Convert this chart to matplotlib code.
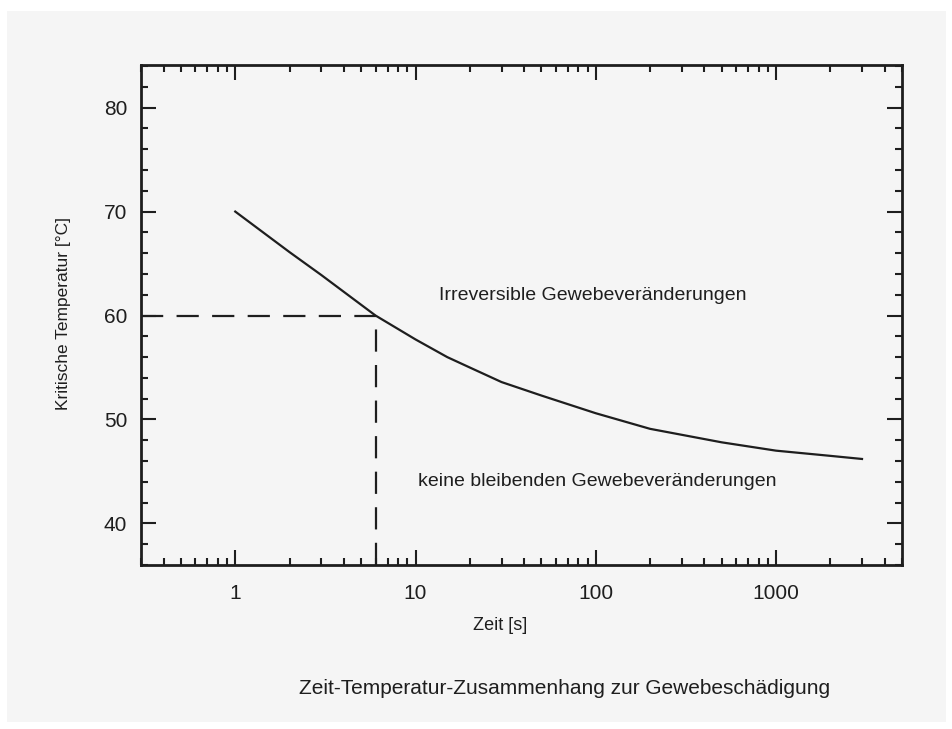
import matplotlib.pyplot as plt
from matplotlib.patches import Rectangle

# critical temperature vs. exposure time
zeit = [1, 2, 3, 6, 10, 15, 20, 30, 50, 100, 200, 500, 1000, 2000, 3000]
temperatur = [70.0, 66.1, 63.9, 60.0, 57.7, 56.0, 55.0, 53.6, 52.3, 50.6, 49.1, 47.8, 47.0, 46.5, 46.2]

# dashed guide: 60 degC reached after about 6 s
guide_t = 6
guide_T = 60

x_ticks = [1, 10, 100, 1000]
x_ticklabels = ['1', '10', '100', '1000']
y_ticks = [40, 50, 60, 70, 80]

plt.rcParams['font.family'] = ['Liberation Sans', 'DejaVu Sans']
ink = '#1e1e1e'
paper = '#f5f5f5'

fig = plt.figure(figsize=(9.53, 7.29), dpi=100)
fig.patch.set_facecolor('white')
fig.patches.append(Rectangle((7 / 953, 1 - 722 / 729), 939 / 953, 711 / 729,
                             transform=fig.transFigure, facecolor=paper,
                             edgecolor='none', zorder=-10))

ax = fig.add_axes([141 / 953, 1 - 565 / 729, 761 / 953, 500 / 729])
ax.set_facecolor(paper)
ax.set_xscale('log')
ax.set_xlim(0.3, 5000)
ax.set_ylim(36, 84.1)

ax.plot(zeit, temperatur, color=ink, lw=1.6)
ax.plot([0.3, guide_t], [guide_T, guide_T], color=ink, lw=1.6, dashes=(10, 6))
ax.plot([guide_t, guide_t], [36, guide_T], color=ink, lw=1.6, dashes=(10, 6))

ax.set_xticks(x_ticks)
ax.set_xticklabels(x_ticklabels)
ax.set_yticks(y_ticks)
ax.set_yticks(range(36, 85, 2), minor=True)
ax.tick_params(which='both', direction='in', top=True, right=True, colors=ink, width=1.5)
ax.tick_params(which='major', length=11, labelsize=15, pad=14)
ax.tick_params(which='minor', length=5)
ax.tick_params(axis='y', which='major', pad=10)
for s in ax.spines.values():
    s.set_linewidth(2)
    s.set_color(ink)

fig.text(593 / 953, 1 - 295 / 729, 'Irreversible Gewebeveränderungen', ha='center', va='center',
         fontsize=14, color=ink)
fig.text(597 / 953, 1 - 482 / 729, 'keine bleibenden Gewebeveränderungen', ha='center', va='center',
         fontsize=14, color=ink)
fig.text(500 / 953, 1 - 626 / 729, 'Zeit [s]', ha='center', va='center', fontsize=13, color=ink)
fig.text(64 / 953, 1 - 313 / 729, 'Kritische Temperatur [°C]', ha='center', va='center',
         rotation=90, fontsize=12.5, color=ink)
fig.text(565 / 953, 1 - 688 / 729, 'Zeit-Temperatur-Zusammenhang zur Gewebeschädigung',
         ha='center', va='center', fontsize=15, color=ink)

fig.savefig('out.png', dpi=100, facecolor=fig.get_facecolor())
